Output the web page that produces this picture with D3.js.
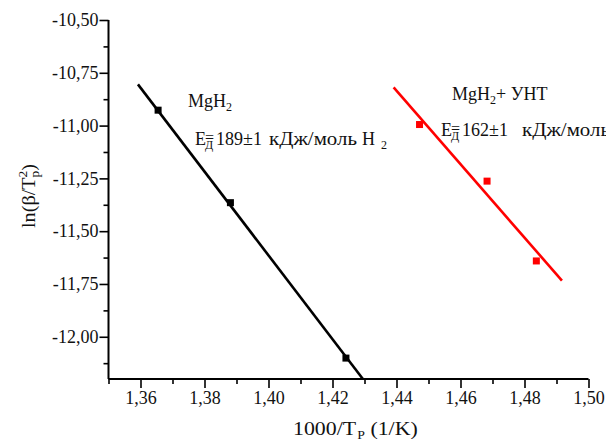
<!DOCTYPE html>
<html><head><meta charset="utf-8">
<script src="https://cdn.jsdelivr.net/npm/d3@7"></script>
<style>
html,body{margin:0;padding:0;background:#fff;overflow:hidden;}
svg{display:block;font-family:"Liberation Serif","Times New Roman",serif;}
</style></head>
<body><svg id="c" width="606" height="443"></svg>
<script>
// Data
const mgh2X = [1.3655, 1.3881, 1.4242];
const mgh2Y = [-10.927, -11.365, -12.101];
const mgh2FitX = [1.3592, 1.4295];
const mgh2FitY = [-10.805, -12.2];
const untX = [1.4472, 1.4683, 1.4837];
const untY = [-10.995, -11.263, -11.641];
const untFitX = [1.4391, 1.4917];
const untFitY = [-10.819, -11.734];
const xMajorTicks = [1.36, 1.38, 1.40, 1.42, 1.44, 1.46, 1.48, 1.50];
const xMinorTicks = [1.35, 1.37, 1.39, 1.41, 1.43, 1.45, 1.47, 1.49];
const yMajorTicks = [-10.5, -10.75, -11.0, -11.25, -11.5, -11.75, -12.0];
const yMinorTicks = [-10.625, -10.875, -11.125, -11.375, -11.625, -11.875, -12.125];

const svg = d3.select("#c");
const x = d3.scaleLinear().domain([1.35, 1.50]).range([108.5, 588.5]);
const y = d3.scaleLinear().domain([-12.2, -10.5]).range([379, 20]);
const fmt = d => d.toFixed(2).replace(".", ",");

// axes
const gx = svg.append("g").attr("transform", "translate(0,379)");
gx.call(d3.axisBottom(x).tickValues(xMajorTicks).tickSize(9).tickPadding(3).tickFormat(fmt));
gx.append("g").attr("class","minor").call(d3.axisBottom(x).tickValues(xMinorTicks).tickSize(5).tickFormat(""));
const gy = svg.append("g").attr("transform", "translate(108.5,0)");
gy.call(d3.axisLeft(y).tickValues(yMajorTicks).tickSize(9).tickPadding(1).tickFormat(fmt));
gy.append("g").attr("class","minor").call(d3.axisLeft(y).tickValues(yMinorTicks).tickSize(5).tickFormat(""));
svg.selectAll(".minor .domain").remove();
gy.select(".domain").attr("d", `M0,${y(-12.2)}V${y(-10.5)}`);
gx.select(".domain").attr("d", `M${x(1.35)},0H${x(1.50)}`);
svg.selectAll(".domain").attr("stroke", "#000").attr("stroke-width", 2);
svg.selectAll(".tick line").attr("stroke", "#000").attr("stroke-width", 1.6);
svg.selectAll(".tick text").attr("font-family", "Liberation Serif").attr("font-size", 18).attr("fill", "#111");

// fit lines
const line = d3.line().x(d => x(d[0])).y(d => y(d[1]));
svg.append("path").datum(d3.zip(mgh2FitX, mgh2FitY)).attr("d", line)
  .attr("stroke", "#000").attr("stroke-width", 2.6).attr("fill", "none");
svg.append("path").datum(d3.zip(untFitX, untFitY)).attr("d", line)
  .attr("stroke", "#ff0000").attr("stroke-width", 2.6).attr("fill", "none");

// points
const s = 7;
svg.selectAll(".pb").data(d3.zip(mgh2X, mgh2Y)).join("rect")
  .attr("x", d => x(d[0]) - s/2).attr("y", d => y(d[1]) - s/2).attr("width", s).attr("height", s).attr("fill", "#000");
svg.selectAll(".pr").data(d3.zip(untX, untY)).join("rect")
  .attr("x", d => x(d[0]) - s/2).attr("y", d => y(d[1]) - s/2).attr("width", s).attr("height", s).attr("fill", "#ff0000");

// annotations
const fs = 18;
function t(xp, yp){ return svg.append("text").attr("x", xp).attr("y", yp).attr("font-size", fs).attr("fill", "#111"); }
function stretched(xp, yp, str, w){
  const el = svg.append("text").attr("font-size", fs).attr("fill", "#111").text(str);
  const len = el.node().getComputedTextLength() || w;
  el.attr("transform", `translate(${xp},${yp}) scale(${w/len},1)`);
  return el;
}
function energy(x0, yb, val, cyrX, withH){
  const e = t(x0, yb);
  e.append("tspan").text("E");
  e.append("tspan").attr("x", x0 + 10).attr("font-size", 12).attr("dy", 4).text("Д");
  e.append("tspan").attr("x", x0 + 10).attr("dy", -6).attr("font-size", 16).text("=");
  e.append("tspan").attr("x", x0 + 21).attr("dy", 2).text(val + "±1");
  stretched(cyrX, yb, "кДж/моль", 88);
  if (withH) {
    const h = t(x0 + 167, yb);
    h.append("tspan").text("H");
    h.append("tspan").attr("x", x0 + 186).attr("font-size", 12).attr("dy", 4).text("2");
  }
}
let a = t(188, 107);
a.append("tspan").text("MgH");
a.append("tspan").attr("font-size", 12).attr("dy", 4).text("2");
energy(195, 145, "189", 269, true);

a = t(452, 100);
a.append("tspan").text("MgH");
a.append("tspan").attr("font-size", 12).attr("dy", 4).text("2");
a.append("tspan").attr("dy", -4).text("+ УНТ");
energy(441, 136, "162", 522, false);

// axis titles
a = svg.append("text").attr("transform", "translate(293,435) scale(1.15,1)")
  .attr("font-size", 19).attr("fill", "#111");
a.append("tspan").text("1000/T");
a.append("tspan").attr("font-size", 12).attr("dy", 4).attr("dx", 1).text("Р");
a.append("tspan").attr("dy", -4).text(" (1/K)");

const yt = svg.append("text").attr("transform", "translate(35,228) rotate(-90) scale(1.12,1)")
  .attr("font-size", fs).attr("fill", "#111");
yt.append("tspan").text("ln(β/T");
yt.append("tspan").attr("font-size", 12).attr("dy", -8).text("2");
yt.append("tspan").attr("font-size", 12).attr("dy", 12).attr("dx", -6).text("p");
yt.append("tspan").attr("dy", -4).text(")");
</script></body></html>
